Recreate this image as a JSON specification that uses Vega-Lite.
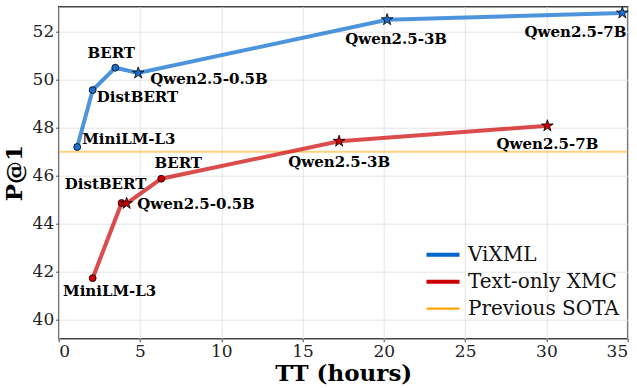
{
  "$schema": "https://vega.github.io/schema/vega-lite/v6.json",
  "width": 569,
  "height": 332,
  "autosize": {"type": "none"},
  "padding": {"left": 58.7, "top": 6.7, "right": 9.3, "bottom": 49.3},
  "background": "white",
  "config": {
    "font": "DejaVu Serif",
    "view": {"stroke": "#444444", "strokeWidth": 1.5},
    "axis": {
      "labelFont": "DejaVu Serif",
      "labelFontSize": 17,
      "labelColor": "#222222",
      "titleFont": "DejaVu Serif",
      "titleFontSize": 23,
      "titleFontWeight": "bold",
      "titleColor": "#000000",
      "domain": false,
      "tickColor": "#444444",
      "tickSize": 3,
      "labelPadding": 2,
      "gridColor": "#e4e4e4",
      "gridWidth": 1
    },
    "legend": {
      "labelFont": "DejaVu Serif",
      "labelFontSize": 20,
      "labelColor": "#111111",
      "padding": 0
    }
  },
  "datasets": {
    "pts": [
      {"series": "ViXML", "model": "MiniLM-L3", "tt": 1.14, "p1": 47.2},
      {"series": "ViXML", "model": "DistBERT", "tt": 2.09, "p1": 49.57},
      {"series": "ViXML", "model": "BERT", "tt": 3.48, "p1": 50.5},
      {"series": "ViXML", "model": "Qwen2.5-0.5B", "tt": 4.89, "p1": 50.28},
      {"series": "ViXML", "model": "Qwen2.5-3B", "tt": 20.2, "p1": 52.5},
      {"series": "ViXML", "model": "Qwen2.5-7B", "tt": 34.67, "p1": 52.78},
      {"series": "Text-only XMC", "model": "MiniLM-L3", "tt": 2.09, "p1": 41.74},
      {"series": "Text-only XMC", "model": "DistBERT", "tt": 3.87, "p1": 44.87},
      {"series": "Text-only XMC", "model": "Qwen2.5-0.5B", "tt": 4.18, "p1": 44.85},
      {"series": "Text-only XMC", "model": "BERT", "tt": 6.31, "p1": 45.88},
      {"series": "Text-only XMC", "model": "Qwen2.5-3B", "tt": 17.25, "p1": 47.44},
      {"series": "Text-only XMC", "model": "Qwen2.5-7B", "tt": 30.06, "p1": 48.08}
    ],
    "sota": [
      {"series": "Previous SOTA", "p1": 47.0}
    ]
  },
  "layer": [
    {
      "data": {"name": "sota"},
      "mark": {"type": "rule", "opacity": 0.5, "strokeWidth": 2},
      "encoding": {
        "y": {"field": "p1", "type": "quantitative", "scale": {"domain": [39.22, 53.04], "nice": false, "zero": false}},
        "color": {"field": "series", "type": "nominal"}
      }
    },
    {
      "data": {"name": "pts"},
      "mark": {"type": "line", "opacity": 0.7, "strokeWidth": 4},
      "encoding": {
        "x": {"field": "tt", "type": "quantitative", "title": "TT (hours)",
              "scale": {"domain": [0, 35], "nice": false},
              "axis": {"values": [0, 5, 10, 15, 20, 25, 30, 35], "titlePadding": 3}},
        "y": {"field": "p1", "type": "quantitative", "title": "P@1",
              "scale": {"domain": [39.22, 53.04], "nice": false, "zero": false},
              "axis": {"values": [40, 42, 44, 46, 48, 50, 52], "titlePadding": 6}},
        "color": {"field": "series", "type": "nominal", "title": null,
                  "scale": {"domain": ["ViXML", "Text-only XMC", "Previous SOTA"], "range": ["#0066cc", "#cc0000", "#ffa500"]},
                  "legend": {"orient": "none", "legendX": 374.3, "legendY": 238, "title": null, "symbolSize": 1089, "rowPadding": 7, "labelOffset": 15,
                             "symbolOpacity": 1,
                             "encode": {"symbols": {"update": {
                               "opacity": {"value": 1},
                               "strokeOpacity": {"value": 1},
                               "strokeWidth": {"signal": "datum.value === 'Previous SOTA' ? 2.2 : 4"}}}}}}
      }
    },
    {
      "data": {"name": "pts"},
      "transform": [{"filter": "indexof(datum.model, 'Qwen') < 0"}],
      "mark": {"type": "point", "filled": true, "shape": "circle", "size": 48, "stroke": "#000000", "strokeWidth": 0.8, "opacity": 1},
      "encoding": {
        "x": {"field": "tt", "type": "quantitative"},
        "y": {"field": "p1", "type": "quantitative"},
        "fill": {"field": "series", "type": "nominal", "legend": null,
                 "scale": {"domain": ["ViXML", "Text-only XMC"], "range": ["#1a6fd0", "#cc0000"]}}
      }
    },
    {
      "data": {"name": "pts"},
      "transform": [{"filter": "indexof(datum.model, 'Qwen') >= 0"}],
      "mark": {"type": "point", "filled": true, "shape": "M0,-1L0.2245,-0.309L0.951,-0.309L0.363,0.118L0.588,0.809L0,0.382L-0.588,0.809L-0.363,0.118L-0.951,-0.309L-0.2245,-0.309Z", "size": 150, "stroke": "#000000", "strokeWidth": 0.8, "opacity": 1},
      "encoding": {
        "x": {"field": "tt", "type": "quantitative"},
        "y": {"field": "p1", "type": "quantitative"},
        "fill": {"field": "series", "type": "nominal", "legend": null}
      }
    },
    {"data": {"name": "pts"}, "transform": [{"filter": "datum.series === 'ViXML' && datum.model === 'MiniLM-L3'"}],
     "mark": {"type": "text", "font": "DejaVu Serif", "fontWeight": "bold", "fontSize": 15, "align": "left", "baseline": "middle", "dx": 5, "dy": -8, "color": "#000000"},
     "encoding": {"x": {"field": "tt", "type": "quantitative"}, "y": {"field": "p1", "type": "quantitative"}, "text": {"field": "model"}}},
    {"data": {"name": "pts"}, "transform": [{"filter": "datum.series === 'ViXML' && datum.model === 'DistBERT'"}],
     "mark": {"type": "text", "font": "DejaVu Serif", "fontWeight": "bold", "fontSize": 15, "align": "left", "baseline": "middle", "dx": 4, "dy": 7, "color": "#000000"},
     "encoding": {"x": {"field": "tt", "type": "quantitative"}, "y": {"field": "p1", "type": "quantitative"}, "text": {"field": "model"}}},
    {"data": {"name": "pts"}, "transform": [{"filter": "datum.series === 'ViXML' && datum.model === 'BERT'"}],
     "mark": {"type": "text", "font": "DejaVu Serif", "fontWeight": "bold", "fontSize": 15, "align": "center", "baseline": "middle", "dx": -4, "dy": -14.5, "color": "#000000"},
     "encoding": {"x": {"field": "tt", "type": "quantitative"}, "y": {"field": "p1", "type": "quantitative"}, "text": {"field": "model"}}},
    {"data": {"name": "pts"}, "transform": [{"filter": "datum.series === 'ViXML' && datum.model === 'Qwen2.5-0.5B'"}],
     "mark": {"type": "text", "font": "DejaVu Serif", "fontWeight": "bold", "fontSize": 15, "align": "left", "baseline": "middle", "dx": 12, "dy": 6, "color": "#000000"},
     "encoding": {"x": {"field": "tt", "type": "quantitative"}, "y": {"field": "p1", "type": "quantitative"}, "text": {"field": "model"}}},
    {"data": {"name": "pts"}, "transform": [{"filter": "datum.series === 'ViXML' && datum.model === 'Qwen2.5-3B'"}],
     "mark": {"type": "text", "font": "DejaVu Serif", "fontWeight": "bold", "fontSize": 15, "align": "center", "baseline": "middle", "dx": 9, "dy": 19, "color": "#000000"},
     "encoding": {"x": {"field": "tt", "type": "quantitative"}, "y": {"field": "p1", "type": "quantitative"}, "text": {"field": "model"}}},
    {"data": {"name": "pts"}, "transform": [{"filter": "datum.series === 'ViXML' && datum.model === 'Qwen2.5-7B'"}],
     "mark": {"type": "text", "font": "DejaVu Serif", "fontWeight": "bold", "fontSize": 15, "align": "right", "baseline": "middle", "dx": 4, "dy": 19.5, "color": "#000000"},
     "encoding": {"x": {"field": "tt", "type": "quantitative"}, "y": {"field": "p1", "type": "quantitative"}, "text": {"field": "model"}}},
    {"data": {"name": "pts"}, "transform": [{"filter": "datum.series === 'Text-only XMC' && datum.model === 'MiniLM-L3'"}],
     "mark": {"type": "text", "font": "DejaVu Serif", "fontWeight": "bold", "fontSize": 15, "align": "center", "baseline": "middle", "dx": 17, "dy": 12.5, "color": "#000000"},
     "encoding": {"x": {"field": "tt", "type": "quantitative"}, "y": {"field": "p1", "type": "quantitative"}, "text": {"field": "model"}}},
    {"data": {"name": "pts"}, "transform": [{"filter": "datum.series === 'Text-only XMC' && datum.model === 'DistBERT'"}],
     "mark": {"type": "text", "font": "DejaVu Serif", "fontWeight": "bold", "fontSize": 15, "align": "center", "baseline": "middle", "dx": -16, "dy": -18.5, "color": "#000000"},
     "encoding": {"x": {"field": "tt", "type": "quantitative"}, "y": {"field": "p1", "type": "quantitative"}, "text": {"field": "model"}}},
    {"data": {"name": "pts"}, "transform": [{"filter": "datum.series === 'Text-only XMC' && datum.model === 'Qwen2.5-0.5B'"}],
     "mark": {"type": "text", "font": "DejaVu Serif", "fontWeight": "bold", "fontSize": 15, "align": "left", "baseline": "middle", "dx": 10.6, "dy": 0.5, "color": "#000000"},
     "encoding": {"x": {"field": "tt", "type": "quantitative"}, "y": {"field": "p1", "type": "quantitative"}, "text": {"field": "model"}}},
    {"data": {"name": "pts"}, "transform": [{"filter": "datum.series === 'Text-only XMC' && datum.model === 'BERT'"}],
     "mark": {"type": "text", "font": "DejaVu Serif", "fontWeight": "bold", "fontSize": 15, "align": "center", "baseline": "middle", "dx": 17, "dy": -16, "color": "#000000"},
     "encoding": {"x": {"field": "tt", "type": "quantitative"}, "y": {"field": "p1", "type": "quantitative"}, "text": {"field": "model"}}},
    {"data": {"name": "pts"}, "transform": [{"filter": "datum.series === 'Text-only XMC' && datum.model === 'Qwen2.5-3B'"}],
     "mark": {"type": "text", "font": "DejaVu Serif", "fontWeight": "bold", "fontSize": 15, "align": "center", "baseline": "middle", "dx": 0, "dy": 21, "color": "#000000"},
     "encoding": {"x": {"field": "tt", "type": "quantitative"}, "y": {"field": "p1", "type": "quantitative"}, "text": {"field": "model"}}},
    {"data": {"name": "pts"}, "transform": [{"filter": "datum.series === 'Text-only XMC' && datum.model === 'Qwen2.5-7B'"}],
     "mark": {"type": "text", "font": "DejaVu Serif", "fontWeight": "bold", "fontSize": 15, "align": "center", "baseline": "middle", "dx": 0, "dy": 18.5, "color": "#000000"},
     "encoding": {"x": {"field": "tt", "type": "quantitative"}, "y": {"field": "p1", "type": "quantitative"}, "text": {"field": "model"}}}
  ]
}
